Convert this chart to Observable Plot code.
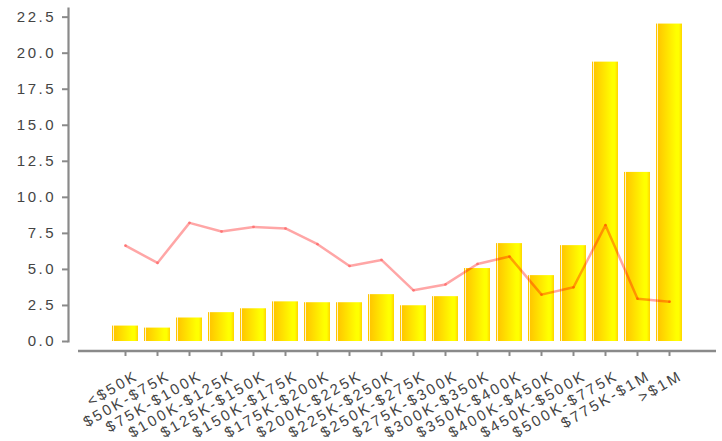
<!DOCTYPE html>
<html>
<head>
<meta charset="utf-8">
<script src="https://cdn.jsdelivr.net/npm/d3@7"></script>
<script src="https://cdn.jsdelivr.net/npm/@observablehq/plot@0.6"></script>
<style>
  html, body { margin: 0; padding: 0; background: #fff; }
  #chart svg { display: block; }
</style>
</head>
<body>
<div id="chart"></div>
<script>
const categories = ["<$50K", "$50K-$75K", "$75K-$100K", "$100K-$125K", "$125K-$150K", "$150K-$175K",
  "$175K-$200K", "$200K-$225K", "$225K-$250K", "$250K-$275K", "$275K-$300K", "$300K-$350K",
  "$350K-$400K", "$400K-$450K", "$450K-$500K", "$500K-$775K", "$775K-$1M", ">$1M"];
const barValues = [1.07, 0.93, 1.63, 2.0, 2.27, 2.75, 2.69, 2.69, 3.25, 2.48, 3.11, 5.06,
  6.79, 4.57, 6.65, 19.38, 11.73, 22.02];
const lineValues = [6.65, 5.45, 8.23, 7.63, 7.95, 7.84, 6.75, 5.24, 5.66, 3.55, 3.96, 5.38,
  5.89, 3.25, 3.76, 8.07, 2.97, 2.76];
const yTicks = [0, 2.5, 5, 7.5, 10, 12.5, 15, 17.5, 20, 22.5];

const data = categories.map((c, i) => ({cat: c, bar: barValues[i], line: lineValues[i]}));

const axisColor = "#8a8a8a";
const textColor = "#444";

const plot = Plot.plot({
  width: 722,
  height: 441,
  marginTop: 8,
  marginBottom: 100,
  marginLeft: 78,
  marginRight: 6,
  style: {fontFamily: "'Liberation Sans', Arial, sans-serif", fontSize: "15px", color: textColor, background: "#fff"},
  x: {domain: categories, padding: 0.2, insetLeft: 25, insetRight: 25, label: null},
  y: {domain: [0, 23.1], label: null},
  marks: [
    Plot.barY(data, {x: "cat", y: "bar", fill: "url(#barGrad)"}),
    Plot.line(data, {x: "cat", y: "line", stroke: "#ff0000", strokeOpacity: 0.35, strokeWidth: 2.5}),
    Plot.dot(data, {x: "cat", y: "line", r: 1.4, fill: "#ff0000", fillOpacity: 0.3, stroke: null}),
    Plot.frame({anchor: "left", dx: -10, stroke: axisColor, strokeWidth: 2.2}),
    Plot.ruleY([0], {dy: 9.5, stroke: axisColor, strokeWidth: 2.5}),
    Plot.axisY({ticks: yTicks, tickFormat: d => d.toFixed(1), dx: -10, tickSize: 6, tickPadding: 6.5,
      stroke: axisColor, strokeWidth: 2, strokeOpacity: 1, fill: textColor, label: null}),
    Plot.axisX({dy: 9, tickSize: 6, tickFormat: () => "",
      stroke: axisColor, strokeWidth: 2, strokeOpacity: 1, label: null}),
    Plot.axisX({dy: 9, dx: 11.5, tickSize: 0, tickPadding: 24, tickRotate: -30,
      fill: textColor, label: null})
  ]
});

const ns = "http://www.w3.org/2000/svg";
const defs = document.createElementNS(ns, "defs");
const grad = document.createElementNS(ns, "linearGradient");
grad.setAttribute("id", "barGrad");
grad.setAttribute("x1", "0"); grad.setAttribute("x2", "1");
grad.setAttribute("y1", "0"); grad.setAttribute("y2", "0");
[["0", "#ffc400"], ["0.04", "#ffc400"], ["0.045", "#fff4cc"], ["0.09", "#fff4cc"], ["0.095", "#ffc800"],
 ["0.78", "#ffff00"], ["0.88", "#ffff00"], ["1", "#ffd400"]].forEach(([o, c]) => {
  const s = document.createElementNS(ns, "stop");
  s.setAttribute("offset", o);
  s.setAttribute("stop-color", c);
  grad.appendChild(s);
});
defs.appendChild(grad);
plot.insertBefore(defs, plot.firstChild);

plot.querySelectorAll("text").forEach(t => t.setAttribute("letter-spacing", "2.5"));

document.getElementById("chart").appendChild(plot);
</script>
</body>
</html>
